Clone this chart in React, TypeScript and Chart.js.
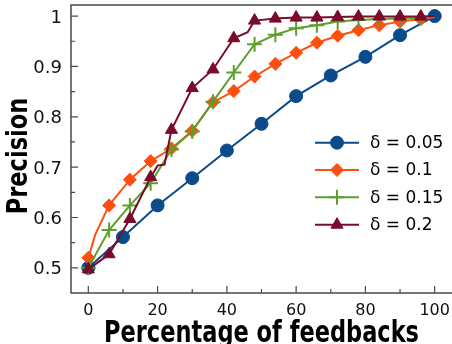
import React, { useEffect, useRef } from 'react';
import { Chart, registerables } from 'chart.js';
import { drawPoint } from 'chart.js/helpers';

Chart.register(...registerables);

// ---------- data ----------
const seriesLabels = ['δ = 0.05', 'δ = 0.1', 'δ = 0.15', 'δ = 0.2'];

const xTickValues = [0, 20, 40, 60, 80, 100];
const xTickLabels = ['0', '20', '40', '60', '80', '100'];
const xMinorValues = [10, 30, 50, 70, 90];
const yTickValues = [0.5, 0.6, 0.7, 0.8, 0.9, 1.0];
const yTickLabels = ['0.5', '0.6', '0.7', '0.8', '0.9', '1'];
const yMinorValues = [0.55, 0.65, 0.75, 0.85, 0.95];

const d005X = [0, 10, 20, 30, 40, 50, 60, 70, 80, 90, 100];
const d005Y = [0.5, 0.561, 0.624, 0.678, 0.733, 0.786, 0.841, 0.882, 0.919, 0.962, 1.0];
const d005Marks = [1, 1, 1, 1, 1, 1, 1, 1, 1, 1, 1];

const d01X = [0, 2, 6, 12, 18, 24, 30, 36, 42, 48, 54, 60, 66, 72, 78, 84, 90, 96, 100];
const d01Y = [0.52, 0.566, 0.624, 0.675, 0.712, 0.737, 0.772, 0.829, 0.851, 0.88, 0.905, 0.927, 0.947, 0.961, 0.972, 0.982, 0.989, 0.994, 0.998];
const d01Marks = [1, 0, 1, 1, 1, 1, 1, 1, 1, 1, 1, 1, 1, 1, 1, 1, 1, 1, 0];

const d015X = [0, 6, 12, 18, 24, 30, 36, 42, 48, 54, 60, 66, 72, 78, 84, 90, 96, 100];
const d015Y = [0.5, 0.575, 0.624, 0.668, 0.735, 0.771, 0.83, 0.888, 0.944, 0.963, 0.976, 0.982, 0.989, 0.992, 0.994, 0.995, 0.996, 0.999];
const d015Marks = [1, 1, 1, 1, 1, 1, 1, 1, 1, 1, 1, 1, 1, 1, 1, 1, 1, 0];

const d02X = [0, 6, 12, 18, 20, 22, 24, 30, 36, 42, 46, 48, 54, 60, 66, 72, 78, 84, 90, 96, 100];
const d02Y = [0.497, 0.527, 0.597, 0.68, 0.703, 0.705, 0.774, 0.857, 0.894, 0.956, 0.968, 0.991, 0.995, 0.997, 0.997, 0.998, 0.999, 0.999, 0.999, 0.999, 1.0];
const d02Marks = [1, 1, 1, 1, 0, 0, 1, 1, 1, 1, 0, 1, 1, 1, 1, 1, 1, 1, 1, 1, 0];

// ---------- styles ----------
const colors = ['#0b4a8b', '#ff4f10', '#5d9e2c', '#7a0b2b'];
const pointStyles = ['circle', 'rectRot', 'cross', 'triangle'];
const pointSizes = [6.5, 6.5, 7.5, 7];

const TITLE_FONT = "bold 25px 'DejaVu Sans Condensed', 'DejaVu Sans'";

function makeSet(i: number, xs: number[], ys: number[], marks: number[]) {
  return {
    label: seriesLabels[i],
    data: xs.map((x, k) => ({ x, y: ys[k] })),
    borderColor: colors[i],
    backgroundColor: colors[i],
    borderWidth: 2,
    tension: 0,
    pointStyle: pointStyles[i],
    pointRadius: (c: any) => (marks[c.dataIndex] ? pointSizes[i] : 0),
    pointHoverRadius: 0,
    pointBorderWidth: i === 2 ? 2 : 1,
    pointBorderColor: colors[i],
    pointBackgroundColor: colors[i],
    clip: 10,
    order: 3 - i,
  };
}

const decorPlugin = {
  id: 'decor',
  afterDraw(chart: any) {
    const { ctx, chartArea: a, scales } = chart;
    const xs = scales.x;
    const ys = scales.y;
    ctx.save();
    // frame
    ctx.strokeStyle = '#4a4a4a';
    ctx.lineWidth = 1.5;
    ctx.beginPath();
    ctx.moveTo(a.right + 2, a.top);
    ctx.lineTo(a.left, a.top);
    ctx.lineTo(a.left, a.bottom);
    ctx.lineTo(a.right + 2, a.bottom);
    ctx.stroke();
    // ticks inside
    ctx.lineWidth = 1.2;
    ctx.beginPath();
    xTickValues.forEach((v) => {
      const p = xs.getPixelForValue(v);
      ctx.moveTo(p, a.bottom);
      ctx.lineTo(p, a.bottom - 7);
    });
    xMinorValues.forEach((v) => {
      const p = xs.getPixelForValue(v);
      ctx.moveTo(p, a.bottom);
      ctx.lineTo(p, a.bottom - 4);
    });
    yTickValues.forEach((v) => {
      const p = ys.getPixelForValue(v);
      ctx.moveTo(a.left, p);
      ctx.lineTo(a.left + 7, p);
    });
    yMinorValues.forEach((v) => {
      const p = ys.getPixelForValue(v);
      ctx.moveTo(a.left, p);
      ctx.lineTo(a.left + 4, p);
    });
    ctx.stroke();

    // tick labels
    ctx.fillStyle = '#111';
    ctx.textBaseline = 'alphabetic';
    ctx.font = "16px 'DejaVu Sans'";
    ctx.textAlign = 'center';
    xTickValues.forEach((v, i) => {
      ctx.fillText(xTickLabels[i], xs.getPixelForValue(v), a.bottom + 21.5);
    });
    ctx.font = "18px 'DejaVu Sans'";
    ctx.textAlign = 'right';
    yTickValues.forEach((v, i) => {
      ctx.fillText(yTickLabels[i], a.left - 9, ys.getPixelForValue(v) + 6.6);
    });

    // axis titles
    ctx.fillStyle = '#000';
    ctx.font = TITLE_FONT;
    ctx.textAlign = 'center';
    ctx.textBaseline = 'alphabetic';
    ctx.save();
    ctx.translate((a.left + a.right) / 2, 342);
    ctx.scale(1, 1.22);
    ctx.fillText('Percentage of feedbacks', 0, 0);
    ctx.restore();
    ctx.save();
    ctx.translate(27, 156);
    ctx.rotate(-Math.PI / 2);
    ctx.scale(1, 1.1);
    ctx.fillText('Precision', 0, 0);
    ctx.restore();

    // legend
    const rows = [142.7, 170, 197.3, 224.7];
    ctx.font = "17px 'DejaVu Sans'";
    ctx.textAlign = 'left';
    ctx.textBaseline = 'middle';
    rows.forEach((ry, i) => {
      ctx.strokeStyle = colors[i];
      ctx.lineWidth = 2;
      ctx.beginPath();
      ctx.moveTo(315, ry);
      ctx.lineTo(359, ry);
      ctx.stroke();
      ctx.fillStyle = colors[i];
      ctx.lineWidth = i === 2 ? 2 : 1;
      drawPoint(ctx, { pointStyle: pointStyles[i], radius: pointSizes[i], borderWidth: i === 2 ? 2 : 1, rotation: 0 } as any, 337, ry);
      ctx.fillStyle = '#000';
      ctx.fillText(seriesLabels[i], 370, ry + 1);
    });
    ctx.restore();
  },
};

export default function App() {
  const ref = useRef<HTMLCanvasElement | null>(null);
  useEffect(() => {
    if (!ref.current) return;
    const chart = new Chart(ref.current, {
      type: 'line',
      data: {
        datasets: [
          makeSet(0, d005X, d005Y, d005Marks),
          makeSet(1, d01X, d01Y, d01Marks),
          makeSet(2, d015X, d015Y, d015Marks),
          makeSet(3, d02X, d02Y, d02Marks),
        ] as any,
      },
      options: {
        responsive: false,
        animation: false,
        devicePixelRatio: 1,
        layout: { autoPadding: false, padding: { top: 5, right: 0, left: 0, bottom: 0 } },
        plugins: { legend: { display: false }, tooltip: { enabled: false } },
        scales: {
          x: {
            type: 'linear',
            min: -5,
            max: 105,
            grid: { display: false, drawTicks: false },
            border: { display: false },
            ticks: { display: false },
            afterFit: (s: any) => {
              s.height = 51;
            },
          },
          y: {
            type: 'linear',
            min: 0.45,
            max: 1.022,
            grid: { display: false, drawTicks: false },
            border: { display: false },
            ticks: { display: false },
            afterFit: (s: any) => {
              s.width = 71;
            },
          },
        },
      } as any,
      plugins: [decorPlugin],
    });
    return () => chart.destroy();
  }, []);
  return (
    <div style={{ position: 'absolute', left: 0, top: 0, width: 452, height: 344, background: '#fff' }}>
      <canvas ref={ref} width={452} height={344} />
    </div>
  );
}
